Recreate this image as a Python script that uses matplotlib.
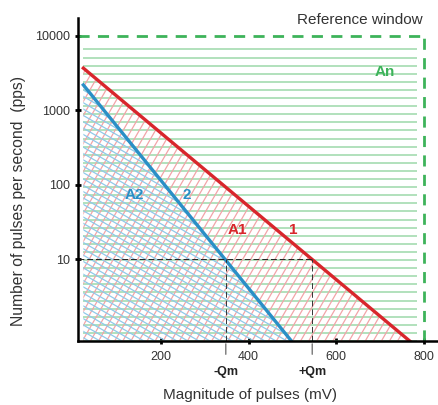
import numpy as np
import matplotlib.pyplot as plt
from matplotlib.collections import LineCollection
from matplotlib.patches import Polygon

plt.rcParams['font.family'] = ['Liberation Sans', 'DejaVu Sans']

# line 1 (A1 boundary) and line 2 (A2 boundary): magnitude (mV) vs pulses per second
line1_mv = [23, 768]
line1_pps = [3700, 0.8]
line2_mv = [23, 498]
line2_pps = [2200, 0.8]

# reference window
window_mv = 800
window_pps = 10000
hatch_top_pps = 7500
hatch_right_mv = 785

# Qm markers at 10 pps
qm_level = 10
qm_minus = 348
qm_plus = 545

x_ticks = [200, 400, 600, 800]
y_ticks = [10, 100, 1000, 10000]
y_ticklabels = ['10', '100', '1000', '10000']

red = '#d8262c'
blue = '#2a8fc6'
green = '#3db35a'

W, H = 438 * 0.822, 405 * 0.797  # axes size in pixels

fig = plt.figure(figsize=(4.38, 4.05), dpi=100)
ax = fig.add_axes([0.178, 0.158, 0.822, 0.797])
ax.set_yscale('log')
ax.set_xlim(10.7, 832)
ax.set_ylim(0.805, 17300)
ymin = 0.805


def loglin(xs, ys, n=50):
    x = np.linspace(xs[0], xs[1], n)
    y = 10 ** np.interp(x, xs, np.log10(ys))
    return x, y


def hatch(verts, angle, spacing, color, lw=0.9):
    # region outline used only as a clip path
    poly = Polygon(verts, closed=True, transform=ax.transData,
                   facecolor='none', edgecolor='none')
    ax.add_patch(poly)
    t = np.tan(np.radians(angle))
    step = spacing / np.cos(np.radians(angle))
    lo, hi = min(0, -t * W), max(H, H - t * W)
    segs = []
    for c in np.arange(lo - step, hi + step, step):
        segs.append([(0, c / H), (1, (c + t * W) / H)])
    lc = LineCollection(segs, colors=color, linewidths=lw, transform=ax.transAxes)
    ax.add_collection(lc)
    lc.set_clip_path(poly)


x1, y1 = loglin(line1_mv, line1_pps)
x2, y2 = loglin(line2_mv, line2_pps)

# An region: horizontal green lines
hatch([(line1_mv[0], ymin), (hatch_right_mv, ymin), (hatch_right_mv, hatch_top_pps),
       (line1_mv[0], hatch_top_pps)], 0, 8.1, '#9dd8aa', lw=1.1)
# A1 region: red hatching
hatch(list(zip(x1, y1)) + [(line1_mv[0], ymin)], 60, 7.0, '#f2a4a8')
# A2 region: blue hatching
hatch(list(zip(x2, y2)) + [(line2_mv[0], ymin)], -30, 5.5, '#8fc9ea')

# boundary lines
ax.plot(x1, y1, color=red, lw=2.4)
ax.plot(x2, y2, color=blue, lw=2.4)

# reference window (dashed green)
ax.plot([ax.get_xlim()[0], window_mv], [window_pps, window_pps], color=green,
        lw=2, dashes=(4, 3))
ax.plot([window_mv, window_mv], [ymin, window_pps], color=green, lw=2,
        dashes=(4, 3))

# Qm guide lines
ax.plot([ax.get_xlim()[0], qm_plus], [qm_level, qm_level], color='#222222',
        lw=0.7, dashes=(6, 3))
for q in (qm_minus, qm_plus):
    ax.plot([q, q], [ymin, qm_level], color='#333333', lw=0.7, dashes=(6, 3))
    ax.annotate('', xy=(q, 0), xycoords=('data', 'axes fraction'),
                xytext=(q, -0.05), textcoords=('data', 'axes fraction'),
                arrowprops=dict(arrowstyle='-', color='#555555', lw=0.8))
ax.text(qm_minus, -0.097, '-Qm', transform=ax.get_xaxis_transform(),
        ha='center', va='center', fontsize=9, fontweight='bold', color='#222222')
ax.text(qm_plus, -0.097, '+Qm', transform=ax.get_xaxis_transform(),
        ha='center', va='center', fontsize=9, fontweight='bold', color='#222222')

# region labels
ax.text(140, 73, 'A2', color=blue, fontsize=11, fontweight='bold', ha='center', va='center')
ax.text(259, 73, '2', color=blue, fontsize=11, fontweight='bold', ha='center', va='center')
ax.text(374, 25, 'A1', color=red, fontsize=11, fontweight='bold', ha='center', va='center')
ax.text(502, 25, '1', color=red, fontsize=11, fontweight='bold', ha='center', va='center')
ax.text(711, 3300, 'An', color=green, fontsize=11, fontweight='bold', ha='center', va='center')
ax.text(0.958, 0.994, 'Reference window', transform=ax.transAxes, ha='right',
        va='center', fontsize=11, color='#333333')

ax.set_xticks(x_ticks)
ax.set_yticks(y_ticks)
ax.set_yticklabels(y_ticklabels)
ax.minorticks_off()
ax.tick_params(direction='inout', length=5, width=2, labelsize=9,
               labelcolor='#333333')
ax.tick_params(axis='x', pad=5)
for s in ('top', 'right'):
    ax.spines[s].set_visible(False)
for s in ('left', 'bottom'):
    ax.spines[s].set_linewidth(1.8)

ax.set_xlabel('Magnitude of pulses (mV)', fontsize=11, color='#333333')
ax.set_ylabel('Number of pulses per second  (pps)', fontsize=11.3, color='#333333')
ax.xaxis.set_label_coords(0.478, -0.145)
ax.yaxis.set_label_coords(-0.145, 0.433)

fig.savefig('out.png', dpi=100)
